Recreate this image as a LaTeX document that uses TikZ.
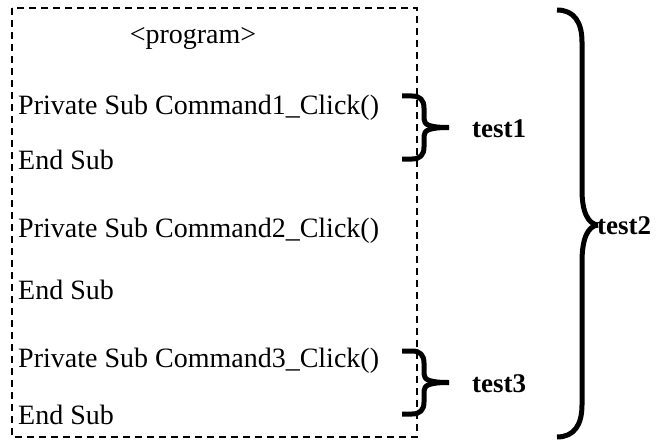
\documentclass[tikz,border=0pt]{standalone}
\usepackage{fontspec}
\setmainfont{Liberation Serif}
\begin{document}
\begin{tikzpicture}[x=1pt,y=-1pt,
  codetext/.style={anchor=base west,inner sep=0pt,font=\fontsize{28}{33}\selectfont},
  titletext/.style={anchor=base,inner sep=0pt,font=\fontsize{28}{33}\selectfont},
  labeltext/.style={anchor=base west,inner sep=0pt,font=\fontsize{27}{32}\selectfont\bfseries},
  framebox/.style={draw,line width=1.6pt,dash pattern=on 7pt off 5pt},
  bracepath/.style={draw,line width=5pt,line cap=butt,line join=round}]
\useasboundingbox (0,0) rectangle (659,444);
\draw[framebox] (12,8) rectangle (417,437);
\node[titletext] (prog) at (193,44) {<program>};
\node[codetext] (p1) at (18,114) {Private Sub Command1\_Click()};
\node[codetext] (e1) at (18,169) {End Sub};
\node[codetext] (p2) at (18,237) {Private Sub Command2\_Click()};
\node[codetext] (e2) at (18,299) {End Sub};
\node[codetext] (p3) at (18,367) {Private Sub Command3\_Click()};
\node[codetext] (e3) at (18,424) {End Sub};
% brace 1
\path[bracepath] (402,96) -- (412,96) .. controls (420,96) and (424,100) .. (424,108) -- (424,119) .. controls (424,125) and (430,127.5) .. (449,127.5);
\path[bracepath] (449,127.5) .. controls (430,127.5) and (424,130) .. (424,136) -- (424,147) .. controls (424,155) and (420,159) .. (412,159) -- (402,159);
\node[labeltext] (t1) at (472,137) {test1};
% brace 3
\path[bracepath] (402,351) -- (412,351) .. controls (420,351) and (424,355) .. (424,363) -- (424,374) .. controls (424,380) and (430,382.5) .. (449,382.5);
\path[bracepath] (449,382.5) .. controls (430,382.5) and (424,385) .. (424,391) -- (424,402) .. controls (424,410) and (420,414) .. (412,414) -- (402,414);
\node[labeltext] (t3) at (472,392) {test3};
% big brace
\path[bracepath] (557,10) .. controls (574,10) and (582,22) .. (582,42) -- (582,190) .. controls (582,212) and (588,224) .. (598,225);
\path[bracepath] (598,225) .. controls (588,226) and (582,238) .. (582,262) -- (582,405) .. controls (582,425) and (574,437) .. (557,437);
\node[labeltext] (t2) at (597,234) {test2};
\end{tikzpicture}
\end{document}
